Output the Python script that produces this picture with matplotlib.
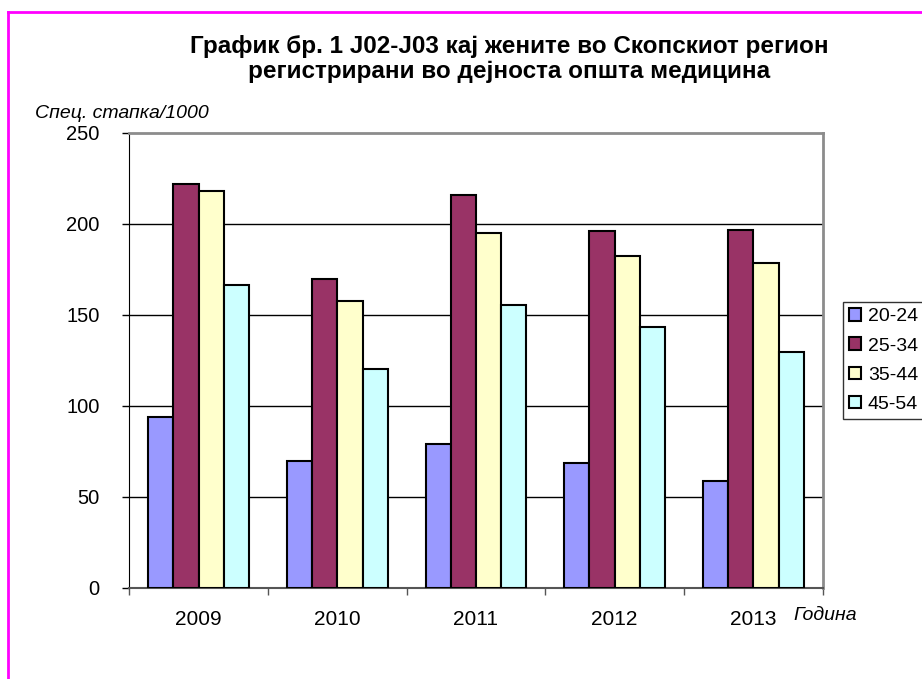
import numpy as np
import matplotlib.pyplot as plt
from matplotlib.lines import Line2D

plt.rcParams['font.family'] = ['Liberation Sans', 'DejaVu Sans']

years = ['2009', '2010', '2011', '2012', '2013']
age_groups = ['20-24', '25-34', '35-44', '45-54']
rate_20_24 = [94.0, 69.6, 78.8, 68.7, 58.6]
rate_25_34 = [222.0, 169.6, 215.9, 195.8, 196.5]
rate_35_44 = [218.0, 157.5, 194.7, 182.4, 178.4]
rate_45_54 = [166.5, 120.2, 155.3, 143.2, 129.3]
colors = ['#9999FF', '#993366', '#FFFFCC', '#CCFFFF']

fig = plt.figure(figsize=(9.22, 6.79), dpi=100)
ax = fig.add_axes([0.1402, 0.1345, 0.7521, 0.6701])

x = np.arange(len(years))
w = 1 / 5.5
series = [rate_20_24, rate_25_34, rate_35_44, rate_45_54]
for j, vals in enumerate(series):
    ax.bar(x + (j - 1.5) * w, vals, w, color=colors[j], edgecolor='black',
           linewidth=1.5, label=age_groups[j], zorder=3)

ax.set_xlim(-0.5, 4.5)
ax.set_ylim(0, 250)
ax.set_yticks([0, 50, 100, 150, 200, 250])
ax.set_yticklabels(['0', '50', '100', '150', '200', '250'], fontsize=14.5)
ax.set_xticks(x)
ax.set_xticklabels(years, fontsize=15)
ax.set_xticks(np.arange(-0.5, 5.0, 1.0), minor=True)
ax.tick_params(axis='x', which='major', length=0, pad=16)
ax.tick_params(axis='x', which='minor', length=5, width=1, color='#555555')
ax.tick_params(axis='y', length=5, width=1, pad=16.5)

for v in [50, 100, 150, 200]:
    ax.axhline(v, color='black', linewidth=1, zorder=1)

for side in ['top', 'right']:
    ax.spines[side].set_color('#8c8c8c')
    ax.spines[side].set_linewidth(2)
ax.spines['left'].set_color('black')
ax.spines['bottom'].set_color('#555555')
ax.spines['bottom'].set_linewidth(1.5)

fig.text(509 / 922, 1 - 59 / 679, 'График бр. 1 J02-J03 кај жените во Скопскиот регион\n'
         'регистрирани во дејноста општа медицина',
         ha='center', va='center', fontsize=17.5, fontweight='bold', linespacing=1.1)
fig.text(35 / 922, 1 - 113 / 679, 'Спец. стапка/1000', ha='left', va='center',
         fontsize=14, style='italic')
fig.text(793 / 922, 1 - 616 / 679, 'Година', ha='left', va='center',
         fontsize=14, style='italic')

leg = fig.legend(loc='upper left', bbox_to_anchor=(842.7 / 922, 1 - 302 / 679),
                 fontsize=14, frameon=True, fancybox=False, handlelength=0.62,
                 handleheight=0.62, handletextpad=0.35, labelspacing=0.62,
                 borderpad=0.32, borderaxespad=0)
leg.get_frame().set_edgecolor('black')
leg.get_frame().set_linewidth(1)

# magenta frame around the chart area
fig.add_artist(Line2D([8 / 922, 8 / 922], [0, 1 - 12 / 679], color='#FF00FF',
                      linewidth=2, transform=fig.transFigure))
fig.add_artist(Line2D([8 / 922, 1], [1 - 12 / 679, 1 - 12 / 679], color='#FF00FF',
                      linewidth=2, transform=fig.transFigure))

fig.savefig('out.png', dpi=100)
